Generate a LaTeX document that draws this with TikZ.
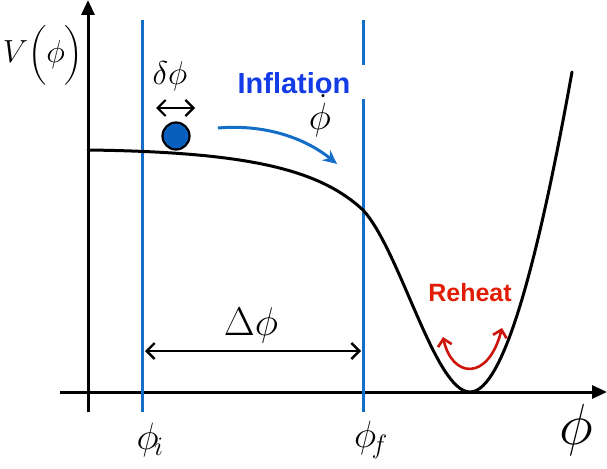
\RequirePackage{fix-cm}
\documentclass[tikz,border=0pt]{standalone}
\usepackage{amsmath}
\usepackage{fontspec}
\newfontfamily\labelfont{Liberation Sans}
\usetikzlibrary{arrows.meta}
\definecolor{lineblue}{RGB}{20,110,200}
\definecolor{ballblue}{RGB}{10,95,190}
\definecolor{textblue}{RGB}{20,60,230}
\definecolor{textred}{RGB}{225,30,5}
\definecolor{arrred}{RGB}{205,20,10}
\tikzset{
  axis/.style={line width=3pt,-{Triangle[length=15pt,width=13pt]}},
  vline/.style={lineblue,line width=3pt},
  pot/.style={line width=3pt,line cap=round},
  dbl/.style={line width=2.4pt,{Straight Barb[length=8pt,width=16pt]}-{Straight Barb[length=8pt,width=16pt]}},
  mlabel/.style={inner sep=0pt,font=\fontsize{32}{32}\selectfont},
}
\begin{document}
\begin{tikzpicture}[x=1pt,y=-1pt]
\useasboundingbox (0,0) rectangle (607,468);
% axes
\coordinate (yb) at (88,412);
\coordinate (yt) at (88,0);
\coordinate (xl) at (60,392);
\coordinate (xr) at (607,392);
\draw[axis] (yb) -- (yt);
\draw[axis] (xl) -- (xr);
% vertical blue lines
\coordinate (ib) at (142,412);
\coordinate (it) at (142,20);
\draw[vline] (ib) -- (it);
\coordinate (fb) at (363,412);
\coordinate (fm) at (363,99);
\coordinate (fn) at (363,65);
\coordinate (ft) at (363,20);
\draw[vline] (fb) -- (fm);
\draw[vline] (fn) -- (ft);
% potential
\coordinate (p0) at (88,150);
\coordinate (p1) at (363,210);
\coordinate (p2) at (470,392);
\coordinate (p3) at (572,72);
\draw[pot] (p0) .. controls (250,152) and (320,170) .. (p1)
  .. controls (400,250) and (435,392) .. (p2)
  .. controls (505,392) and (540,250) .. (p3);
% ball
\node[circle,draw=black,line width=2.2pt,fill=ballblue,minimum size=27pt,inner sep=0pt] (ball) at (176,136) {};
% delta phi
\node[mlabel,font=\fontsize{33}{33}\selectfont] (dphi) at (170,76) {$\delta\phi$};
\coordinate (da) at (156,108);
\coordinate (db) at (195,108);
\draw[dbl,line width=2.2pt] (da) -- (db);
% inflation
\node[inner sep=0pt,text=textblue,font=\labelfont\bfseries\fontsize{29}{29}\selectfont] (infl) at (294,83) {Inflation};
\node[mlabel,font=\fontsize{38}{38}\selectfont] (phidot) at (320,116) {$\dot\phi$};
\coordinate (ia) at (218,128);
\coordinate (ib2) at (337,164);
\draw[lineblue,line width=3pt,-{Stealth[length=14pt,width=13pt]}] (ia) .. controls (265,124) and (305,138) .. (ib2);
% Delta phi
\node[mlabel,font=\fontsize{40}{40}\selectfont] (Dphi) at (251,325) {$\Delta\phi$};
\coordinate (Da) at (145,351);
\coordinate (Db) at (361,351);
\draw[dbl] (Da) -- (Db);
% labels
\node[mlabel,font=\fontsize{32}{32}\selectfont] (V) at (43,55) {$V\Bigl(\phi\Bigr)$};
\node[mlabel,font=\fontsize{38}{38}\selectfont] (phii) at (150,440) {$\phi_{\!i}$};
\node[mlabel,font=\fontsize{38}{38}\selectfont] (phif) at (371,440) {$\phi_{\!f}$};
\node[mlabel,font=\fontsize{58}{58}\selectfont] (phi) at (576,430) {$\phi$};
% reheat
\node[inner sep=0pt,text=textred,font=\labelfont\bfseries\fontsize{25}{25}\selectfont] (reh) at (470,293) {Reheat};
\coordinate (ra) at (443,337);
\coordinate (rb) at (502,328);
\draw[arrred,line width=2.6pt,{Straight Barb[length=7pt,width=14pt]}-{Straight Barb[length=7pt,width=14pt]}] (ra) .. controls (452,378) and (488,382) .. (rb);
\end{tikzpicture}
\end{document}
